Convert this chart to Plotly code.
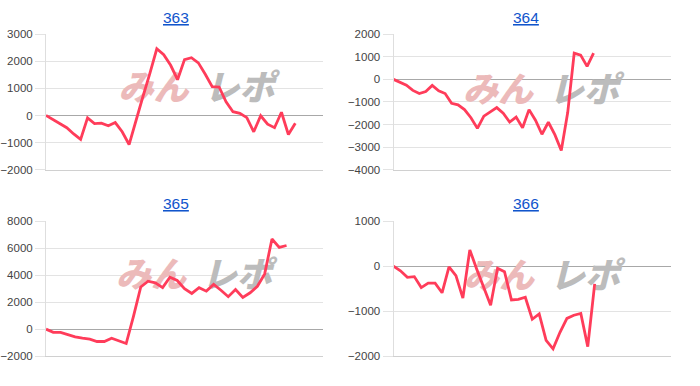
import plotly.graph_objects as go

# ---- data ----
titles = ["363", "364", "365", "366"]

s363 = [0, -140, -290, -450, -680, -880, -90, -300, -280, -380, -260, -600, -1070,
        -150, 700, 1550, 2460, 2240, 1850, 1320, 2060, 2130, 1940, 1520, 1060, 1050,
        500, 140, 80, -80, -600, -10, -320, -450, 120, -700, -290]
s364 = [0, -140, -260, -490, -630, -540, -270, -510, -630, -1060, -1130, -1340, -1700,
        -2170, -1630, -1440, -1250, -1500, -1890, -1670, -2140, -1340, -1810, -2430,
        -1900, -2450, -3150, -1460, 1160, 1070, 570, 1160]
s365 = [0, -240, -240, -430, -570, -670, -750, -920, -920, -680, -900, -1070, 950,
        3130, 3560, 3440, 3080, 3850, 3610, 3010, 2650, 3080, 2820, 3320, 2890, 2410,
        2940, 2360, 2700, 3180, 4100, 6690, 6070, 6210]
s366 = [0, -100, -245, -230, -475, -375, -375, -590, -15, -210, -710, 365, -65, -460,
        -870, -45, -120, -750, -735, -690, -1180, -1060, -1650, -1840, -1470, -1160,
        -1090, -1050, -1790, -390]
series = [s363, s364, s365, s366]

x_max = [40, 43, 38, 40]
y_lo = [-2000, -4000, -2000, -2000]
y_hi = [3000, 2000, 8000, 1000]
y_step = [1000, 1000, 2000, 1000]

wm_left = "みん"
wm_right = "レポ"

# ---- layout geometry (pixels) ----
W, H = 700, 386
px_x = [(46, 323), (393.5, 671), (46, 323), (393.5, 671)]
px_y = [(29, 169), (29, 169), (222.3, 361.3), (222.3, 361.3)]
title_pos = [(176, 11.7), (526, 11.7), (176, 204), (526, 204)]
logo_c = [(198.5, 88.5), (543, 90), (196, 281.5), (544, 282)]

LINE = "#ff3c5a"
GRID = "#e3e3e3"

fig = go.Figure()
layout = dict(
    width=W, height=H, margin=dict(l=0, r=0, t=0, b=0),
    paper_bgcolor="white", plot_bgcolor="white", showlegend=False,
    annotations=[],
)

for i in range(4):
    sfx = "" if i == 0 else str(i + 1)
    (x0, x1), (y0, y1) = px_x[i], px_y[i]
    xa = dict(
        domain=[x0 / W, x1 / W], range=[0, x_max[i]], anchor="y" + sfx,
        showgrid=False, zeroline=False, showticklabels=False, ticks="",
        showline=True, linecolor="#d0d0d0", linewidth=1, fixedrange=True,
    )
    ya = dict(
        domain=[1 - y1 / H, 1 - y0 / H], range=[y_lo[i], y_hi[i]],
        anchor="x" + sfx, tick0=0, dtick=y_step[i],
        showgrid=True, gridcolor=GRID, gridwidth=1,
        zeroline=True, zerolinecolor="#a8a8a8", zerolinewidth=1,
        showline=True, linecolor="#dedede", linewidth=1,
        ticks="outside", ticklen=10, tickcolor=GRID, tickwidth=1,
        tickfont=dict(family="Arial, Liberation Sans", size=11.5, color="#444"),
        fixedrange=True,
    )
    layout["xaxis" + sfx] = xa
    layout["yaxis" + sfx] = ya

    # watermark (drawn first, below the line)
    cx, cy = logo_c[i]

    def to_data(px, py_):
        xd = (px - x0) / (x1 - x0) * x_max[i]
        yd = y_lo[i] + (y1 - py_) / (y1 - y0) * (y_hi[i] - y_lo[i])
        return xd, yd

    lx, ly = to_data(cx - 45, cy)
    rx, ry = to_data(cx + 41, cy)
    for (tx, ty, txt, col) in [(lx, ly, wm_left, "rgb(236,186,186)"),
                               (rx, ry, wm_right, "rgb(188,188,188)")]:
        fig.add_trace(go.Scatter(
            x=[tx], y=[ty], text=[txt], mode="text", textposition="middle center",
            textfont=dict(family="Noto Sans CJK JP Black, Noto Sans CJK JP",
                          size=35, color=col, weight=900, style="italic"),
            xaxis="x" + sfx, yaxis="y" + sfx, hoverinfo="skip", cliponaxis=False,
        ))

    fig.add_trace(go.Scatter(
        x=list(range(len(series[i]))), y=series[i], mode="lines",
        line=dict(color=LINE, width=2.8),
        xaxis="x" + sfx, yaxis="y" + sfx, hoverinfo="skip",
    ))

    tx, ty = title_pos[i]
    layout["annotations"].append(dict(
        text="<u>" + titles[i] + "</u>", xref="paper", yref="paper",
        x=tx / W, y=1 - ty / H, xanchor="center", yanchor="middle",
        showarrow=False,
        font=dict(family="Arial, Liberation Sans", size=15.5, color="#1155cc"),
    ))

fig.update_layout(**layout)
fig.write_html("out.html")
